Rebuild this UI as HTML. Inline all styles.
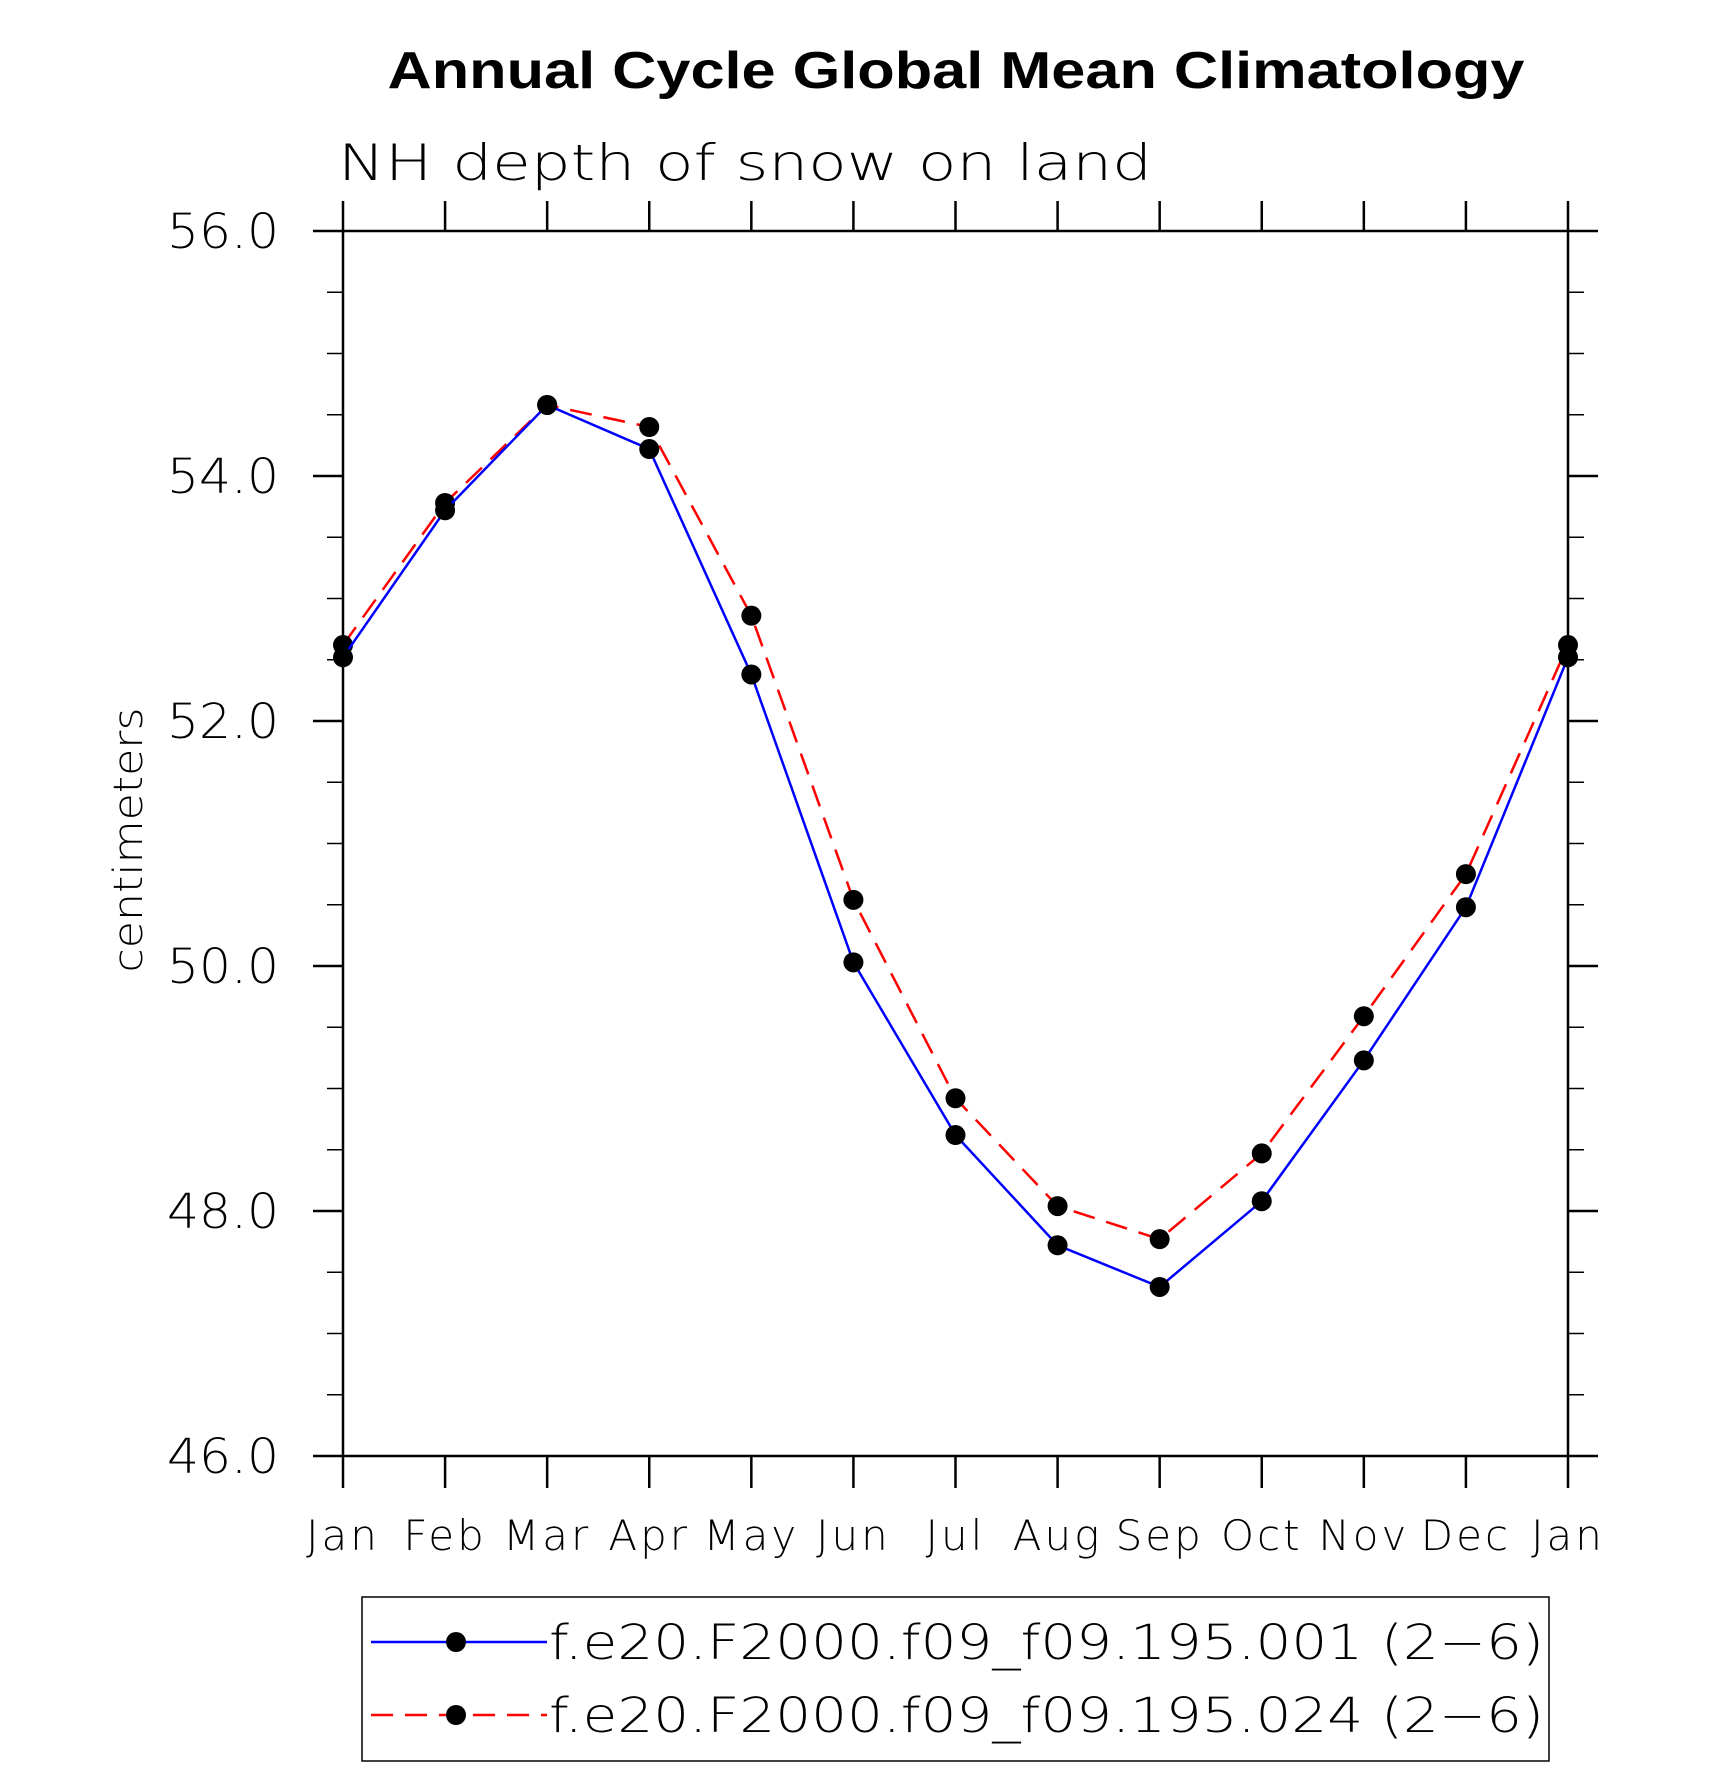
<!DOCTYPE html>
<html><head><meta charset="utf-8"><style>
html,body{margin:0;padding:0;background:#fff;}
svg{display:block;}
text{font-family:"Liberation Sans",sans-serif;}
.thin{font-family:"DejaVu Sans","Liberation Sans",sans-serif;font-weight:200;}
</style></head><body>
<svg id="chart" width="1710" height="1767" viewBox="0 0 1710 1767" xmlns="http://www.w3.org/2000/svg">
<text x="956" y="88" text-anchor="middle" font-size="52" font-weight="bold" textLength="1137" lengthAdjust="spacingAndGlyphs">Annual Cycle Global Mean Climatology</text>
<text class="thin" x="338" y="180" font-size="50" textLength="814" lengthAdjust="spacingAndGlyphs">NH depth of snow on land</text>
<text class="thin" x="0" y="0" font-size="40" text-anchor="middle" textLength="265" lengthAdjust="spacingAndGlyphs" transform="translate(142,840) rotate(-90)">centimeters</text>
<g id="axes"></g>
<g id="series"></g>
<rect x="362" y="1597" width="1187" height="164" fill="none" stroke="#000" stroke-width="1.5"/>
<g>
<line x1="371" y1="1642" x2="547" y2="1642" stroke="#0000ff" stroke-width="2.5"/>
<circle cx="456" cy="1642" r="10" fill="#000"/>
<text class="thin" x="549" y="1659" font-size="48" textLength="995" lengthAdjust="spacingAndGlyphs">f.e20.F2000.f09_f09.195.001 (2−6)</text>
</g>
<g>
<line x1="371" y1="1715" x2="547" y2="1715" stroke="#ff0000" stroke-width="2.5" stroke-dasharray="22,12"/>
<circle cx="456" cy="1715" r="10" fill="#000"/>
<text class="thin" x="549" y="1732" font-size="48" textLength="995" lengthAdjust="spacingAndGlyphs">f.e20.F2000.f09_f09.195.024 (2−6)</text>
</g>
</svg>
<script>
const months = ["Jan","Feb","Mar","Apr","May","Jun","Jul","Aug","Sep","Oct","Nov","Dec","Jan"];
const series001 = [52.52,53.72,54.58,54.22,52.38,50.03,48.62,47.72,47.38,48.08,49.23,50.48,52.52];
const series024 = [52.62,53.78,54.58,54.40,52.86,50.54,48.92,48.04,47.77,48.47,49.59,50.75,52.62];
const yTicks = [46,48,50,52,54,56];
const yTickLabels = ["46.0","48.0","50.0","52.0","54.0","56.0"];
const yMinor = [46.5,47,47.5,48.5,49,49.5,50.5,51,51.5,52.5,53,53.5,54.5,55,55.5];

const L=343,R=1568,T=231,B=1456,yMin=46,yMax=56;
const NS="http://www.w3.org/2000/svg";
function xS(i){return L+(R-L)*i/(months.length-1);}
function yS(v){return B-(B-T)*(v-yMin)/(yMax-yMin);}
function mk(tag,attrs,parent){const e=document.createElementNS(NS,tag);for(const k in attrs)e.setAttribute(k,attrs[k]);parent.appendChild(e);return e;}
const axes=document.getElementById('axes');
const frame=mk('rect',{x:L,y:T,width:R-L,height:B-T,fill:'none',stroke:'#000','stroke-width':2.5},axes);


months.forEach((m,i)=>{
  const x=xS(i);
  mk('line',{x1:x,y1:B,x2:x,y2:B+32,stroke:'#000','stroke-width':2.5},axes);
  mk('line',{x1:x,y1:T,x2:x,y2:T-30,stroke:'#000','stroke-width':2.5},axes);
  const t=mk('text',{x:x,y:1550,'text-anchor':'middle','font-size':42,'letter-spacing':3,class:'thin'},axes);
  t.textContent=m;
  
  
});
yTicks.forEach((v,i)=>{
  const y=yS(v);
  mk('line',{x1:L-30,y1:y,x2:L,y2:y,stroke:'#000','stroke-width':2.5},axes);
  mk('line',{x1:R,y1:y,x2:R+30,y2:y,stroke:'#000','stroke-width':2.5},axes);
  const t=mk('text',{x:167,y:y+17,'font-size':48,textLength:112,lengthAdjust:'spacingAndGlyphs',class:'thin'},axes);
  t.textContent=yTickLabels[i];
  
  
});
yMinor.forEach(v=>{
  const y=yS(v);
  mk('line',{x1:L-16,y1:y,x2:L,y2:y,stroke:'#000','stroke-width':1.5},axes);
  mk('line',{x1:R,y1:y,x2:R+16,y2:y,stroke:'#000','stroke-width':1.5},axes);
});
const sg=document.getElementById('series');
function draw(vals,color,dash,name){
  const g=mk('g',{},sg);
  
  
  const pts=vals.map((v,i)=>xS(i)+','+yS(v)).join(' ');
  const a={points:pts,fill:'none',stroke:color,'stroke-width':2.5};
  if(dash)a['stroke-dasharray']=dash;
  mk('polyline',a,g);
  vals.forEach((v,i)=>{
    const c=mk('circle',{cx:xS(i),cy:yS(v),r:10,fill:'#000'},g);
    
    
  });
}
draw(series024,'#ff0000','22,12','series-024');
draw(series001,'#0000ff',null,'series-001');
</script>
</body></html>
